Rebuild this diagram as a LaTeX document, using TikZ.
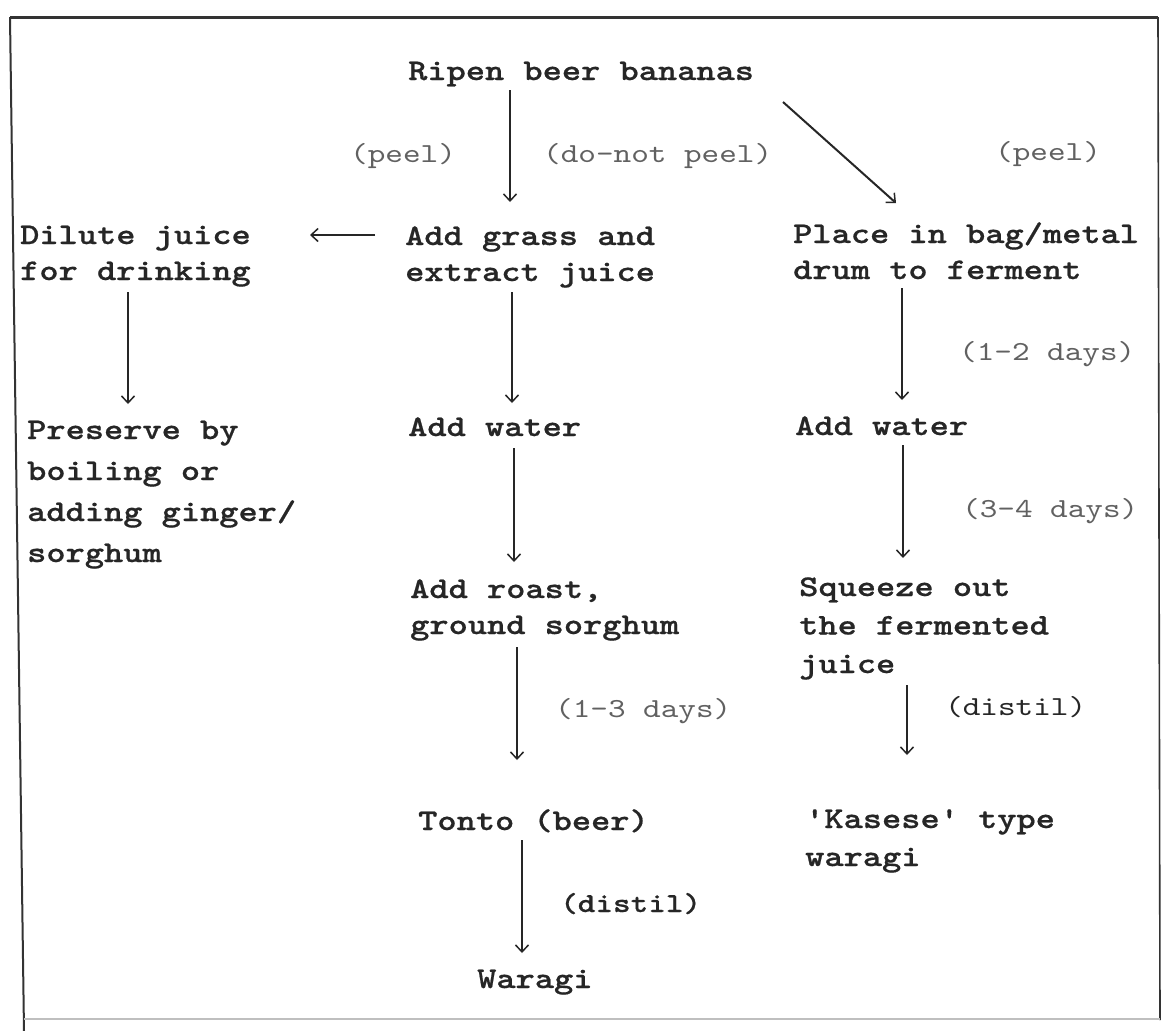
\documentclass[tikz,border=0pt]{standalone}
\usepackage{fontspec}
\setmonofont{lmmono10-regular}[Extension=.otf, BoldFont=lmmonolt10-bold, BoldFeatures={FakeBold=0.6}, FakeStretch=1.22]
\usetikzlibrary{arrows.meta,calc}
\newcommand\mylines[1]{\begin{tabular}[t]{@{}l@{}}#1\end{tabular}}
\tikzset{
  stepnode/.style={inner sep=0pt, anchor=base west, font=\ttfamily\bfseries\fontsize{30}{36}\selectfont, text=black!85},
  lbl/.style={inner sep=0pt, anchor=base west, font=\ttfamily\fontsize{27.5}{34}\selectfont, text=black!62},
  lbldark/.style={lbl, text=black!85},
  arr/.style={line width=1.5pt, draw=black!85, -{Straight Barb[length=7pt,width=13pt,line width=1.5pt]}},
  frameline/.style={draw=black!80, line width=2pt},
}
\begin{document}
\begin{tikzpicture}[x=1pt,y=-1pt]
\useasboundingbox[fill=white] (0,0) rectangle (1163,1031);

% frame
\draw[frameline, line width=3pt] (10,17) -- (1158,17);
\draw[frameline] (10,17) -- (24,1031);
\draw[frameline, line width=1.6pt] (1158,17) -- (1160,1020);
\draw[draw=black!25, line width=1.2pt] (24,1019) -- (1160,1019);

% steps
\node[stepnode] (ripen) at (408,80) {Ripen beer bananas};
\node[stepnode] (grass) at (405,245) {\mylines{Add grass and\\extract juice}};
\node[stepnode] (dilute) at (20,244) {\mylines{Dilute juice\\for drinking}};
\node[stepnode] (place) at (793,243) {\mylines{Place in bag/metal\\drum to ferment}};
\node[stepnode, font=\ttfamily\bfseries\fontsize{30}{41}\selectfont] (preserve) at (27,439) {\mylines{Preserve by\\boiling or\\adding ginger/\\sorghum}};
\node[stepnode] (water) at (408,436) {Add water};
\node[stepnode] (waterR) at (795,435) {Add water};
\node[stepnode] (roast) at (410,598) {\mylines{Add roast,\\ground sorghum}};
\node[stepnode, font=\ttfamily\bfseries\fontsize{30}{38.5}\selectfont] (squeeze) at (799,596) {\mylines{Squeeze out\\the fermented\\juice}};
\node[stepnode] (tonto) at (418,830) {Tonto (beer)};
\node[stepnode, font=\ttfamily\bfseries\fontsize{30}{38}\selectfont] (kasese) at (805,828) {\mylines{'Kasese' type\\waragi}};
\node[stepnode] (waragi) at (477,988) {Waragi};

% labels
\node[lbl] (peelL) at (350,162) {(peel)};
\node[lbl] (donot) at (543,162) {(do-not peel)};
\node[lbl] (peelR) at (995,160) {(peel)};
\node[lbl] (d12) at (959,360) {(1-2 days)};
\node[lbl] (d34) at (962,517) {(3-4 days)};
\node[lbl] (d13) at (555,717) {(1-3 days)};
\node[lbldark] (distilR) at (945,715) {(distil)};
\node[lbldark, font=\ttfamily\bfseries\fontsize{27.5}{34}\selectfont] (distilM) at (560,912) {(distil)};

% connectors
\draw[arr] ($(ripen.base west)+(102,10)$) -- ($(grass.base west)+(105,-43)$);
\draw[arr, line width=2pt] ($(ripen.base west)+(375,22)$) -- ($(place.base west)+(103,-40)$);
\draw[arr] ($(grass.base west)+(-30,-10)$) -- ($(dilute.base west)+(290,-9)$);
\draw[arr] ($(dilute.base west)+(108,48)$) -- ($(preserve.base west)+(101,-35)$);
\draw[arr] ($(grass.base west)+(107,47)$) -- ($(water.base west)+(104,-33)$);
\draw[arr] ($(place.base west)+(109,45)$) -- ($(waterR.base west)+(107,-35)$);
\draw[arr] ($(water.base west)+(106,12)$) -- ($(roast.base west)+(104,-36)$);
\draw[arr] ($(waterR.base west)+(108,10)$) -- ($(squeeze.base west)+(104,-38)$);
\draw[arr] ($(roast.base west)+(107,49)$) -- ($(tonto.base west)+(99,-70)$);
\draw[arr] ($(squeeze.base west)+(108,89)$) -- ($(kasese.base west)+(102,-73)$);
\draw[arr] ($(tonto.base west)+(104,10)$) -- ($(waragi.base west)+(45,-35)$);
\end{tikzpicture}
\end{document}
